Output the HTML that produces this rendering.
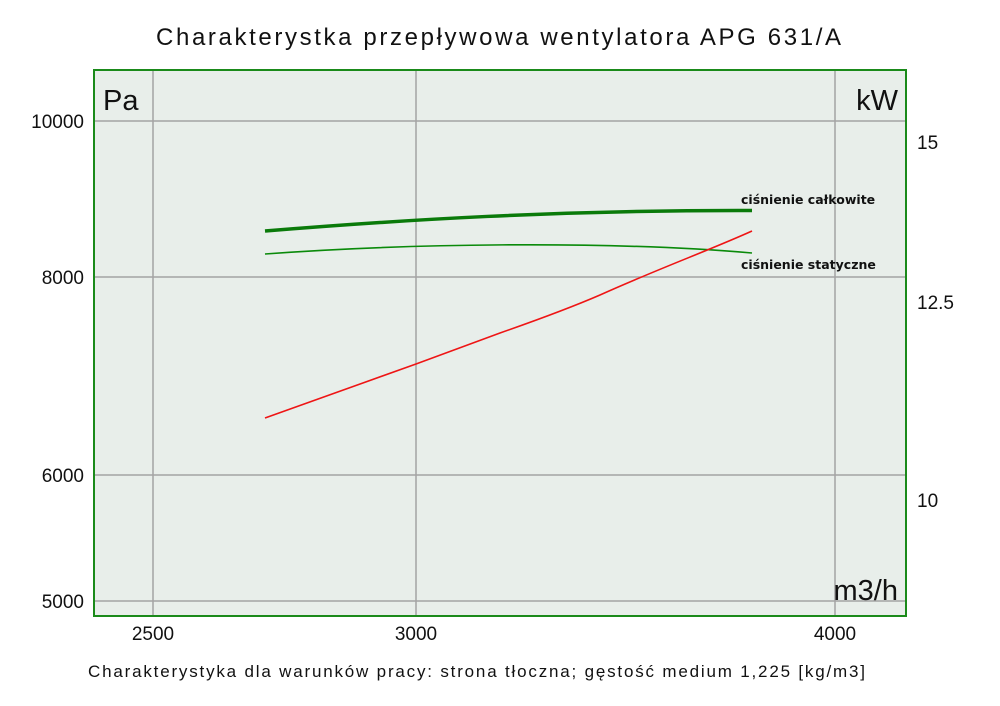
<!DOCTYPE html>
<html><head><meta charset="utf-8"><style>
body{margin:0;background:#fff;}
svg{display:block;font-family:"Liberation Sans","DejaVu Sans",sans-serif;}
</style></head><body>
<svg width="1000" height="706" viewBox="0 0 1000 706">
<rect x="0" y="0" width="1000" height="706" fill="#fff"/>
<text x="156" y="45" font-size="24" textLength="685" lengthAdjust="spacing" fill="#111">Charakterystka przepływowa wentylatora APG 631/A</text>
<rect x="94" y="70" width="812" height="546" fill="#e8eeea"/>
<g stroke="#a3a3a3" stroke-width="1.5">
<line x1="153" y1="70" x2="153" y2="616"/>
<line x1="416" y1="70" x2="416" y2="616"/>
<line x1="835" y1="70" x2="835" y2="616"/>
<line x1="94" y1="121" x2="906" y2="121"/>
<line x1="94" y1="277" x2="906" y2="277"/>
<line x1="94" y1="475" x2="906" y2="475"/>
<line x1="94" y1="601" x2="906" y2="601"/>
</g>
<rect x="94" y="70" width="812" height="546" fill="none" stroke="#1a8a1a" stroke-width="2"/>
<path d="M265,231 C400,220 560,210 752,210.5" fill="none" stroke="#0a7a0a" stroke-width="3.5"/>
<path d="M265,254 C400,244 600,240 752,253" fill="none" stroke="#0a8a0a" stroke-width="1.6"/>
<path d="M265,418 L416,364 L500,333 C540,319 570,308 600,295 C660,268 710,250 752,231" fill="none" stroke="#ee1515" stroke-width="1.6"/>
<text x="741" y="204" font-size="12.5" font-weight="bold" fill="#111" font-family="DejaVu Sans,sans-serif">ciśnienie całkowite</text>
<text x="741" y="269" font-size="12.5" font-weight="bold" fill="#111" font-family="DejaVu Sans,sans-serif">ciśnienie statyczne</text>
<text x="103" y="110" font-size="29" fill="#111">Pa</text>
<text x="898" y="110" font-size="29" fill="#111" text-anchor="end">kW</text>
<text x="898" y="600" font-size="29" fill="#111" text-anchor="end">m3/h</text>
<g font-size="19" fill="#111" text-anchor="end">
<text x="84" y="128">10000</text>
<text x="84" y="284">8000</text>
<text x="84" y="482">6000</text>
<text x="84" y="608">5000</text>
</g>
<g font-size="19" fill="#111">
<text x="917" y="149">15</text>
<text x="917" y="309">12.5</text>
<text x="917" y="507">10</text>
</g>
<g font-size="19" fill="#111" text-anchor="middle">
<text x="153" y="640">2500</text>
<text x="416" y="640">3000</text>
<text x="835" y="640">4000</text>
</g>
<text x="88" y="677" font-size="17" textLength="777" lengthAdjust="spacing" fill="#111">Charakterystyka dla warunków pracy: strona tłoczna; gęstość medium 1,225 [kg/m3]</text>
</svg>
</body></html>
